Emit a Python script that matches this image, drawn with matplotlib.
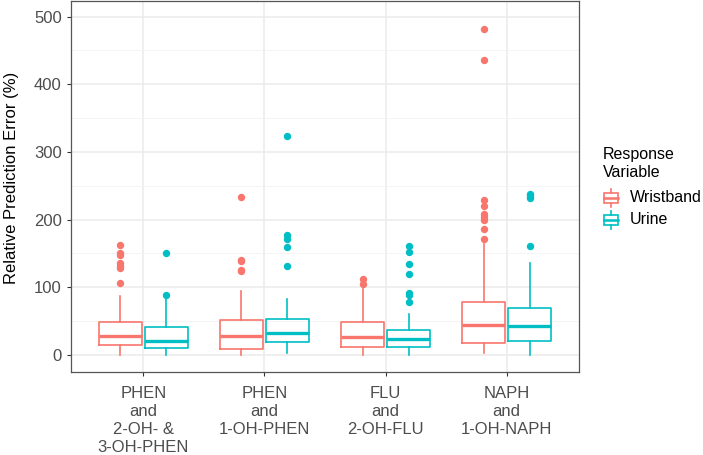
import numpy as np
import matplotlib
matplotlib.use("Agg")
import matplotlib.pyplot as plt
from matplotlib.patches import Rectangle
from matplotlib.lines import Line2D

plt.rcParams['font.family'] = ['Liberation Sans', 'DejaVu Sans']

# categories (x axis)
categories = ["PHEN\nand\n2-OH- &\n3-OH-PHEN", "PHEN\nand\n1-OH-PHEN",
              "FLU\nand\n2-OH-FLU", "NAPH\nand\n1-OH-NAPH"]
series = ["Wristband", "Urine"]
colors = ["#F8766D", "#00BFC4"]

# box stats: whislo, q1, median, q3, whishi
wrist_whislo = [0, 0, 0, 3]
wrist_q1 = [15, 9.5, 12, 18]
wrist_med = [28, 28.5, 27, 45]
wrist_q3 = [48.5, 51, 48, 78]
wrist_whishi = [87, 94, 102, 164]
wrist_fliers = [
    [163, 151, 148, 136, 131, 129, 106],
    [234, 141, 139, 126, 124],
    [113, 105],
    [481, 436, 229, 220, 209, 204, 200, 186, 172],
]

urine_whislo = [0, 3, 0, 0]
urine_q1 = [11, 19, 12, 20]
urine_med = [21, 33, 24, 43]
urine_q3 = [41, 53, 37, 70]
urine_whishi = [84, 82, 61, 136]
urine_fliers = [
    [151, 88],
    [323, 177, 171, 160, 132],
    [161, 152, 134, 120, 92, 88, 79],
    [238, 235, 232, 161],
]


def make_stats(lo, q1, med, q3, hi, fl):
    return [dict(whislo=lo[i], q1=q1[i], med=med[i], q3=q3[i],
                 whishi=hi[i], fliers=fl[i]) for i in range(len(lo))]


stats = [
    make_stats(wrist_whislo, wrist_q1, wrist_med, wrist_q3, wrist_whishi, wrist_fliers),
    make_stats(urine_whislo, urine_q1, urine_med, urine_q3, urine_whishi, urine_fliers),
]

fig = plt.figure(figsize=(7.03, 4.55), dpi=100)
W, H = 703, 455
ax = fig.add_axes([70.7 / W, 1 - 371.7 / H, (579.3 - 70.7) / W, (371.7 - 1) / H])

x = np.arange(1, len(categories) + 1)
offsets = [-0.19, 0.19]
for k in range(2):
    c = colors[k]
    ax.bxp(stats[k], positions=x + offsets[k], widths=0.35, showcaps=False,
           patch_artist=False, manage_ticks=False,
           boxprops=dict(color=c, linewidth=1.2),
           whiskerprops=dict(color=c, linewidth=1.2),
           medianprops=dict(color=c, linewidth=2.4, solid_capstyle='butt'),
           flierprops=dict(marker='o', markerfacecolor=c, markeredgecolor=c,
                           markersize=4.3, linestyle='none'),
           zorder=3)

ax.set_xlim(0.4, 4.6)
ax.set_ylim(-24.7, 523)
ax.set_xticks(x)
ax.set_xticklabels(categories, fontsize=12, color='#4D4D4D', linespacing=1.27)
ax.set_yticks([0, 100, 200, 300, 400, 500])
ax.set_yticks([50, 150, 250, 350, 450], minor=True)
ax.tick_params(axis='y', labelsize=12, labelcolor='#4D4D4D', length=3, color='#333333')
ax.tick_params(axis='x', length=3, color='#333333', pad=7)
ax.tick_params(which='minor', length=0)
ax.grid(True, which='major', color='#EBEBEB', linewidth=1.1, zorder=0)
ax.grid(True, which='minor', axis='y', color='#F2F2F2', linewidth=0.6, zorder=0)
ax.set_axisbelow(True)
for s in ax.spines.values():
    s.set_color('#555555')
    s.set_linewidth(0.9)
ax.set_ylabel("Relative Prediction Error (%)", fontsize=12)
ax.yaxis.set_label_coords(-0.102, 0.524)

# legend drawn in pixel coordinates
lg = fig.add_axes([0, 0, 1, 1])
lg.set_xlim(0, W)
lg.set_ylim(H, 0)
lg.axis('off')
lg.text(603, 163.5, "Response\nVariable", fontsize=11.5, va='center', ha='left',
        linespacing=1.3)
for k, name in enumerate(series):
    yc = 198 + k * 22
    c = colors[k]
    lg.add_patch(Rectangle((603.5, yc - 5), 14, 10, fill=False, edgecolor=c, linewidth=1.2))
    lg.add_line(Line2D([603.5, 617.5], [yc, yc], color=c, linewidth=1.8))
    lg.add_line(Line2D([610.5, 610.5], [yc - 9, yc - 5], color=c, linewidth=1.2))
    lg.add_line(Line2D([610.5, 610.5], [yc + 5, yc + 9], color=c, linewidth=1.2))
    lg.text(630, yc, name, fontsize=11.5, va='center', ha='left')

fig.savefig("out.png", dpi=100)
